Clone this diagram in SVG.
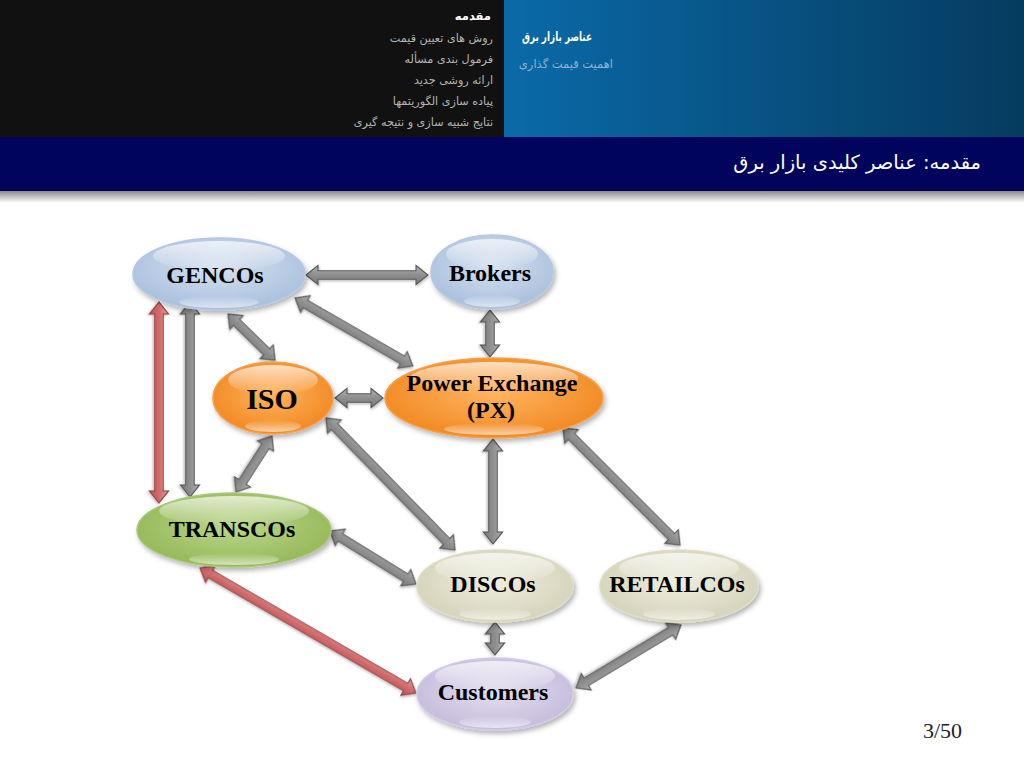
<svg xmlns="http://www.w3.org/2000/svg" width="1024" height="768" viewBox="0 0 1024 768">
<defs>
<style>
.nav{font-family:"DejaVu Sans",sans-serif;font-size:11.2px;fill:#b4b4b4;text-anchor:end}
.lbl{font-family:"Liberation Serif",serif;font-weight:bold;font-size:24px;fill:#000;text-anchor:middle}
.arr{fill:url(#gArr);stroke:#5a5a5a;stroke-width:1.1;filter:url(#shA)}
.red{fill:url(#gRed);stroke:#9a4444;stroke-width:1.1;filter:url(#shA)}
.hl{fill:url(#gHl)}
.hlb{fill:url(#gHlb)}
</style>
<linearGradient id="gBlue" x1="0" y1="0" x2="1" y2="0"><stop offset="0" stop-color="#0a6aa8"/><stop offset="1" stop-color="#053b5f"/></linearGradient>
<linearGradient id="gShadow" x1="0" y1="0" x2="0" y2="1"><stop offset="0" stop-color="#8a8a8a"/><stop offset="1" stop-color="#ffffff"/></linearGradient>
<linearGradient id="gArr" x1="0" y1="0" x2="0" y2="1"><stop offset="0" stop-color="#b0b0b0"/><stop offset="0.5" stop-color="#8e8e8e"/><stop offset="1" stop-color="#7a7a7a"/></linearGradient>
<linearGradient id="gRed" x1="0" y1="0" x2="0" y2="1"><stop offset="0" stop-color="#e59a9a"/><stop offset="0.5" stop-color="#d06a6a"/><stop offset="1" stop-color="#b85656"/></linearGradient>
<radialGradient id="nBlue" cx="0.5" cy="0.4" r="0.6"><stop offset="0" stop-color="#d6e2f0"/><stop offset="1" stop-color="#a8bfdc"/></radialGradient>
<radialGradient id="nOrange" cx="0.5" cy="0.45" r="0.6"><stop offset="0" stop-color="#ffb35e"/><stop offset="1" stop-color="#f0861e"/></radialGradient>
<radialGradient id="nGreen" cx="0.5" cy="0.45" r="0.6"><stop offset="0" stop-color="#bcd68a"/><stop offset="1" stop-color="#92b654"/></radialGradient>
<radialGradient id="nBeige" cx="0.5" cy="0.45" r="0.6"><stop offset="0" stop-color="#eeeddf"/><stop offset="1" stop-color="#d3d1b5"/></radialGradient>
<radialGradient id="nLav" cx="0.5" cy="0.45" r="0.6"><stop offset="0" stop-color="#e4deee"/><stop offset="1" stop-color="#c3b9dc"/></radialGradient>
<linearGradient id="gHl" x1="0" y1="0" x2="0" y2="1"><stop offset="0" stop-color="#fff" stop-opacity="0.7"/><stop offset="1" stop-color="#fff" stop-opacity="0"/></linearGradient>
<linearGradient id="gHlb" x1="0" y1="0" x2="0" y2="1"><stop offset="0" stop-color="#fff" stop-opacity="0"/><stop offset="1" stop-color="#fff" stop-opacity="0.6"/></linearGradient>
<filter id="shN" x="-20%" y="-20%" width="140%" height="150%"><feDropShadow dx="2" dy="3" stdDeviation="2.5" flood-color="#000" flood-opacity="0.3"/></filter>
<filter id="shA" x="-20%" y="-50%" width="140%" height="200%"><feDropShadow dx="1" dy="1.5" stdDeviation="1" flood-color="#000" flood-opacity="0.25"/></filter>
</defs>

<!-- header -->
<rect x="0" y="0" width="504" height="137" fill="#111111"/>
<rect x="504" y="0" width="520" height="137" fill="url(#gBlue)"/>
<rect x="0" y="137" width="1024" height="54" fill="#01045c"/>
<rect x="0" y="191" width="1024" height="12" fill="url(#gShadow)"/>

<text x="491" y="20" font-family="DejaVu Sans,sans-serif" font-size="11.5" font-weight="bold" fill="#ffffff" text-anchor="end" letter-spacing="2">مقدمه</text>
<text class="nav" x="493" y="42">روش های تعیین قیمت</text>
<text class="nav" x="493" y="63">فرمول بندی مسأله</text>
<text class="nav" x="493" y="84">ارائه روشی جدید</text>
<text class="nav" x="493" y="105">پیاده سازی الگوریتمها</text>
<text class="nav" x="493" y="126">نتایج شبیه سازی و نتیجه گیری</text>
<text x="592" y="41" font-family="DejaVu Sans,sans-serif" font-size="12.5" font-weight="bold" fill="#ffffff" text-anchor="end" textLength="70" lengthAdjust="spacingAndGlyphs">عناصر بازار برق</text>
<text x="613" y="68" font-family="DejaVu Sans,sans-serif" font-size="11.5" fill="#8fb2cc" text-anchor="end">اهمیت قیمت گذاری</text>
<text x="981" y="169" font-family="DejaVu Sans,sans-serif" font-size="19.5" fill="#ffffff" text-anchor="end">مقدمه: عناصر کلیدی بازار برق</text>

<!-- connectors -->
<g id="connectors">
<path class="arr" transform="translate(306,275)" d="M0,0 L12,-9.5 L12,-4.2 L110,-4.2 L110,-9.5 L122,0 L110,9.5 L110,4.2 L12,4.2 L12,9.5 Z"/>
<path class="arr" transform="translate(490,310) rotate(90)" d="M0,0 L12,-9.5 L12,-4.2 L35,-4.2 L35,-9.5 L47,0 L35,9.5 L35,4.2 L12,4.2 L12,9.5 Z"/>
<path class="arr" transform="translate(228,314) rotate(44.4)" d="M0,0 L12,-9.5 L12,-4.2 L54,-4.2 L54,-9.5 L66,0 L54,9.5 L54,4.2 L12,4.2 L12,9.5 Z"/>
<path class="arr" transform="translate(295,298) rotate(29.95)" d="M0,0 L12,-9.5 L12,-4.2 L124,-4.2 L124,-9.5 L136,0 L124,9.5 L124,4.2 L12,4.2 L12,9.5 Z"/>
<path class="arr" transform="translate(335,398)" d="M0,0 L12,-9.5 L12,-4.2 L36,-4.2 L36,-9.5 L48,0 L36,9.5 L36,4.2 L12,4.2 L12,9.5 Z"/>
<path class="arr" transform="translate(190,302) rotate(90)" d="M0,0 L12,-9.5 L12,-4.2 L183,-4.2 L183,-9.5 L195,0 L183,9.5 L183,4.2 L12,4.2 L12,9.5 Z"/>
<path class="red" transform="translate(159,302) rotate(90)" d="M0,0 L12,-9.5 L12,-4.2 L189,-4.2 L189,-9.5 L201,0 L189,9.5 L189,4.2 L12,4.2 L12,9.5 Z"/>
<path class="arr" transform="translate(272,436) rotate(122.7)" d="M0,0 L12,-9.5 L12,-4.2 L54.6,-4.2 L54.6,-9.5 L66.6,0 L54.6,9.5 L54.6,4.2 L12,4.2 L12,9.5 Z"/>
<path class="arr" transform="translate(326,418) rotate(45.66)" d="M0,0 L12,-9.5 L12,-4.2 L172.6,-4.2 L172.6,-9.5 L184.6,0 L172.6,9.5 L172.6,4.2 L12,4.2 L12,9.5 Z"/>
<path class="arr" transform="translate(493,439) rotate(90)" d="M0,0 L12,-9.5 L12,-4.2 L93,-4.2 L93,-9.5 L105,0 L93,9.5 L93,4.2 L12,4.2 L12,9.5 Z"/>
<path class="arr" transform="translate(563,428) rotate(45)" d="M0,0 L12,-9.5 L12,-4.2 L153.5,-4.2 L153.5,-9.5 L165.5,0 L153.5,9.5 L153.5,4.2 L12,4.2 L12,9.5 Z"/>
<path class="arr" transform="translate(330,531) rotate(31.64)" d="M0,0 L12,-9.5 L12,-4.2 L89,-4.2 L89,-9.5 L101,0 L89,9.5 L89,4.2 L12,4.2 L12,9.5 Z"/>
<path class="arr" transform="translate(495,622) rotate(90)" d="M0,0 L12,-9.5 L12,-4.2 L21,-4.2 L21,-9.5 L33,0 L21,9.5 L21,4.2 L12,4.2 L12,9.5 Z"/>
<path class="arr" transform="translate(681,625) rotate(149.04)" d="M0,0 L12,-9.5 L12,-4.2 L110.4,-4.2 L110.4,-9.5 L122.4,0 L110.4,9.5 L110.4,4.2 L12,4.2 L12,9.5 Z"/>
<path class="red" transform="translate(200,568) rotate(30.06)" d="M0,0 L12,-9.5 L12,-4.2 L237.6,-4.2 L237.6,-9.5 L249.6,0 L237.6,9.5 L237.6,4.2 L12,4.2 L12,9.5 Z"/>
</g>

<!-- nodes -->
<g id="gencos">
<ellipse cx="219" cy="274" rx="86" ry="36" fill="url(#nBlue)" stroke="#b4c8e2" stroke-width="1.5" filter="url(#shN)"/>
<ellipse class="hl" cx="219" cy="256" rx="66" ry="15"/>
<ellipse class="hlb" cx="219" cy="302" rx="40" ry="6"/>
<text class="lbl" x="215" y="283">GENCOs</text>
</g>
<g id="brokers">
<ellipse cx="492" cy="272" rx="61" ry="37" fill="url(#nBlue)" stroke="#b4c8e2" stroke-width="1.5" filter="url(#shN)"/>
<ellipse class="hl" cx="492" cy="254" rx="46" ry="15"/>
<ellipse class="hlb" cx="492" cy="301" rx="28" ry="6"/>
<text class="lbl" x="490" y="281">Brokers</text>
</g>
<g id="iso">
<ellipse cx="273" cy="398" rx="60" ry="36" fill="url(#nOrange)" stroke="#f7a04a" stroke-width="1.5" filter="url(#shN)"/>
<ellipse class="hl" cx="273" cy="380" rx="45" ry="15"/>
<ellipse class="hlb" cx="273" cy="426" rx="28" ry="6"/>
<text class="lbl" x="272" y="409" style="font-size:30px">ISO</text>
</g>
<g id="px">
<ellipse cx="494" cy="398" rx="109" ry="40" fill="url(#nOrange)" stroke="#f7a04a" stroke-width="1.5" filter="url(#shN)"/>
<ellipse class="hl" cx="494" cy="378" rx="84" ry="16"/>
<ellipse class="hlb" cx="494" cy="429" rx="50" ry="6"/>
<text class="lbl" x="492" y="391">Power Exchange</text>
<text class="lbl" x="491" y="418">(PX)</text>
</g>
<g id="transcos">
<ellipse cx="234" cy="530" rx="97" ry="37" fill="url(#nGreen)" stroke="#a8c878" stroke-width="1.5" filter="url(#shN)"/>
<ellipse class="hl" cx="234" cy="511" rx="75" ry="15"/>
<ellipse class="hlb" cx="234" cy="559" rx="45" ry="6"/>
<text class="lbl" x="232" y="537">TRANSCOs</text>
</g>
<g id="discos">
<ellipse cx="495" cy="586" rx="78" ry="36" fill="url(#nBeige)" stroke="#dedcc6" stroke-width="1.5" filter="url(#shN)"/>
<ellipse class="hl" cx="495" cy="568" rx="60" ry="15"/>
<ellipse class="hlb" cx="495" cy="614" rx="36" ry="6"/>
<text class="lbl" x="493" y="592">DISCOs</text>
</g>
<g id="retailcos">
<ellipse cx="679" cy="586" rx="79" ry="36" fill="url(#nBeige)" stroke="#dedcc6" stroke-width="1.5" filter="url(#shN)"/>
<ellipse class="hl" cx="679" cy="568" rx="60" ry="15"/>
<ellipse class="hlb" cx="679" cy="614" rx="36" ry="6"/>
<text class="lbl" x="677" y="592">RETAILCOs</text>
</g>
<g id="customers">
<ellipse cx="495" cy="694" rx="78" ry="36" fill="url(#nLav)" stroke="#d2cae6" stroke-width="1.5" filter="url(#shN)"/>
<ellipse class="hl" cx="495" cy="676" rx="60" ry="15"/>
<ellipse class="hlb" cx="495" cy="722" rx="36" ry="6"/>
<text class="lbl" x="493" y="700">Customers</text>
</g>

<text x="962" y="738" font-family="Liberation Serif,serif" font-size="22" fill="#222222" text-anchor="end">3/50</text>
</svg>
